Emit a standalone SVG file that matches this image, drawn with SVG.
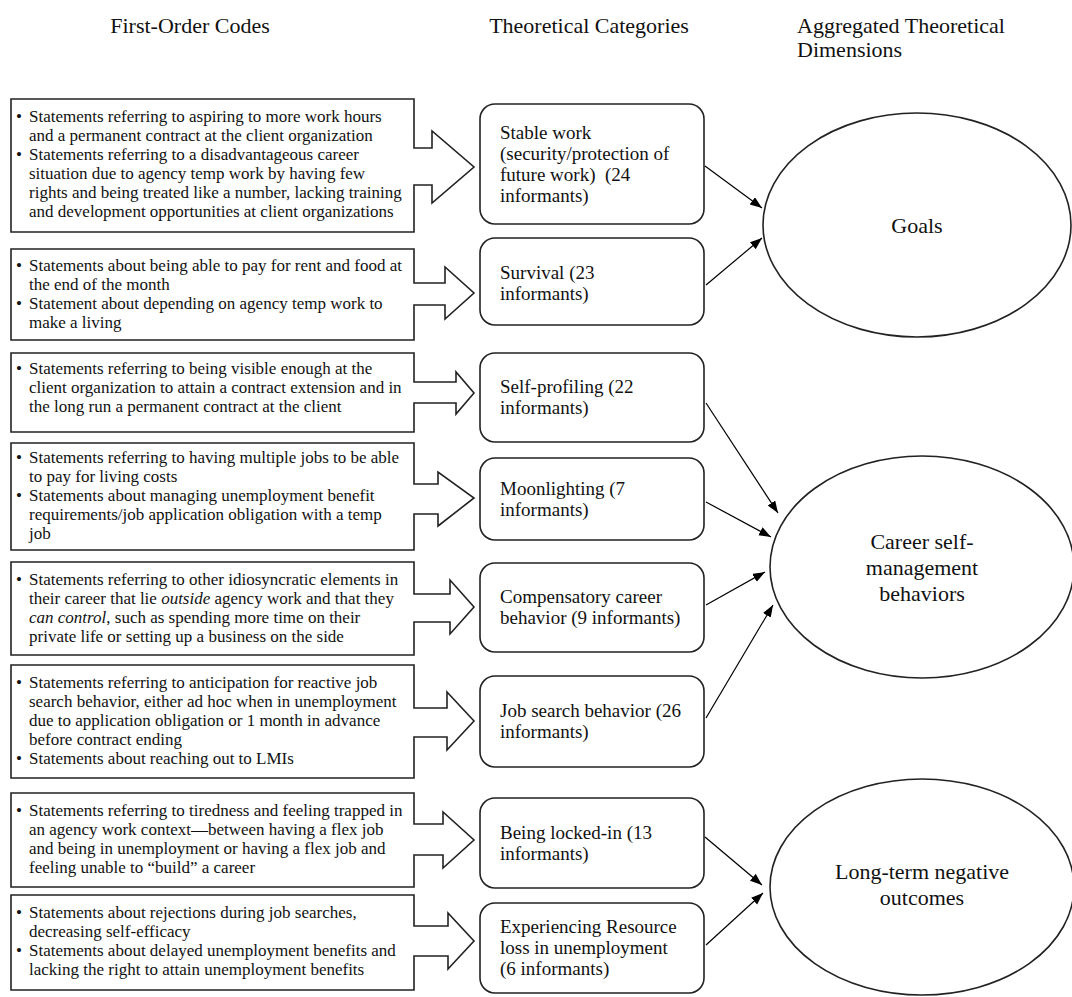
<svg xmlns="http://www.w3.org/2000/svg" width="1072" height="997" viewBox="0 0 1072 997">
<defs>
<marker id="ah" markerUnits="userSpaceOnUse" markerWidth="13" markerHeight="10" refX="12" refY="4.5" orient="auto">
<path d="M0,0 L12,4.5 L0,9 Z" fill="#000"/>
</marker>
<style>
text{font-family:"Liberation Serif","Times New Roman",serif;fill:#111}
.hd{font-size:22px}
.lt{font-size:17px}
.mt{font-size:19px}
.et{font-size:22px;text-anchor:middle}
.lb{fill:#fff;stroke:#222;stroke-width:1.6}
.mb{fill:#fff;stroke:#222;stroke-width:1.6}
.el{fill:#fff;stroke:#222;stroke-width:1.6}
.cn{stroke:#000;stroke-width:1.2;fill:none;marker-end:url(#ah)}
</style>
</defs>
<rect width="1072" height="997" fill="#fff"/>

<g id="headers">
<text class="hd" x="190" y="33" text-anchor="middle">First-Order Codes</text>
<text class="hd" x="589" y="33" text-anchor="middle">Theoretical Categories</text>
<text class="hd" x="797" y="33">Aggregated Theoretical</text>
<text class="hd" x="797" y="57">Dimensions</text>
</g>

<g id="code1">
<path class="lb" d="M11,99 H414 V148 H432 V131 L474,167 L432,203 V185 H414 V232 H11 Z"/>
<text class="lt"><tspan x="16" y="122">•</tspan><tspan x="29" y="122">Statements referring to aspiring to more work hours</tspan><tspan x="29" y="141">and a permanent contract at the client organization</tspan><tspan x="16" y="160">•</tspan><tspan x="29" y="160">Statements referring to a disadvantageous career</tspan><tspan x="29" y="179">situation due to agency temp work by having few</tspan><tspan x="29" y="198">rights and being treated like a number, lacking training</tspan><tspan x="29" y="217">and development opportunities at client organizations</tspan></text>
</g>
<g id="code2">
<path class="lb" d="M11,249 H414 V283 H445 V267 L474,293 L445,319 V305 H414 V340 H11 Z"/>
<text class="lt"><tspan x="16" y="271">•</tspan><tspan x="29" y="271">Statements about being able to pay for rent and food at</tspan><tspan x="29" y="290">the end of the month</tspan><tspan x="16" y="309">•</tspan><tspan x="29" y="309">Statement about depending on agency temp work to</tspan><tspan x="29" y="328">make a living</tspan></text>
</g>
<g id="code3">
<path class="lb" d="M11,353 H414 V382 H456 V372 L474,393 L456,414 V403 H414 V432 H11 Z"/>
<text class="lt"><tspan x="16" y="374">•</tspan><tspan x="29" y="374">Statements referring to being visible enough at the</tspan><tspan x="29" y="393">client organization to attain a contract extension and in</tspan><tspan x="29" y="412">the long run a permanent contract at the client</tspan></text>
</g>
<g id="code4">
<path class="lb" d="M11,443 H414 V484 H438 V472 L474,498 L438,526 V514 H414 V550 H11 Z"/>
<text class="lt"><tspan x="16" y="463">•</tspan><tspan x="29" y="463">Statements referring to having multiple jobs to be able</tspan><tspan x="29" y="482">to pay for living costs</tspan><tspan x="16" y="501">•</tspan><tspan x="29" y="501">Statements about managing unemployment benefit</tspan><tspan x="29" y="520">requirements/job application obligation with a temp</tspan><tspan x="29" y="539">job</tspan></text>
</g>
<g id="code5">
<path class="lb" d="M11,562 H414 V594 H450 V580 L474,607 L450,634 V622 H414 V655 H11 Z"/>
<text class="lt"><tspan x="16" y="585">•</tspan><tspan x="29" y="585">Statements referring to other idiosyncratic elements in</tspan><tspan x="29" y="604">their career that lie <tspan font-style="italic">outside</tspan> agency work and that they</tspan><tspan x="29" y="623"><tspan font-style="italic">can control</tspan>, such as spending more time on their</tspan><tspan x="29" y="642">private life or setting up a business on the side</tspan></text>
</g>
<g id="code6">
<path class="lb" d="M11,665 H414 V708 H447 V692 L474,721 L447,750 V737 H414 V778 H11 Z"/>
<text class="lt"><tspan x="16" y="688">•</tspan><tspan x="29" y="688">Statements referring to anticipation for reactive job</tspan><tspan x="29" y="707">search behavior, either ad hoc when in unemployment</tspan><tspan x="29" y="726">due to application obligation or 1 month in advance</tspan><tspan x="29" y="745">before contract ending</tspan><tspan x="16" y="764">•</tspan><tspan x="29" y="764">Statements about reaching out to LMIs</tspan></text>
</g>
<g id="code7">
<path class="lb" d="M11,793 H414 V824 H443 V812 L474,840 L443,868 V855 H414 V887 H11 Z"/>
<text class="lt"><tspan x="16" y="816">•</tspan><tspan x="29" y="816">Statements referring to tiredness and feeling trapped in</tspan><tspan x="29" y="835">an agency work context—between having a flex job</tspan><tspan x="29" y="854">and being in unemployment or having a flex job and</tspan><tspan x="29" y="873">feeling unable to “build” a career</tspan></text>
</g>
<g id="code8">
<path class="lb" d="M11,895 H414 V926 H448 V913 L474,941 L448,969 V956 H414 V990 H11 Z"/>
<text class="lt"><tspan x="16" y="918">•</tspan><tspan x="29" y="918">Statements about rejections during job searches,</tspan><tspan x="29" y="937">decreasing self-efficacy</tspan><tspan x="16" y="956">•</tspan><tspan x="29" y="956">Statements about delayed unemployment benefits and</tspan><tspan x="29" y="975">lacking the right to attain unemployment benefits</tspan></text>
</g>

<g id="cat1">
<rect class="mb" x="480" y="104" width="224" height="120" rx="15"/>
<text class="mt" xml:space="preserve"><tspan x="500" y="139">Stable work</tspan><tspan x="500" y="160">(security/protection of</tspan><tspan x="500" y="181">future work)  (24</tspan><tspan x="500" y="202">informants)</tspan></text>
</g>
<g id="cat2">
<rect class="mb" x="480" y="238" width="224" height="87" rx="15"/>
<text class="mt"><tspan x="500" y="279">Survival (23</tspan><tspan x="500" y="300">informants)</tspan></text>
</g>
<g id="cat3">
<rect class="mb" x="480" y="353" width="224" height="89" rx="15"/>
<text class="mt"><tspan x="500" y="393">Self-profiling (22</tspan><tspan x="500" y="414">informants)</tspan></text>
</g>
<g id="cat4">
<rect class="mb" x="480" y="458" width="224" height="82" rx="15"/>
<text class="mt"><tspan x="500" y="495">Moonlighting (7</tspan><tspan x="500" y="516">informants)</tspan></text>
</g>
<g id="cat5">
<rect class="mb" x="480" y="563" width="224" height="89" rx="15"/>
<text class="mt"><tspan x="500" y="603">Compensatory career</tspan><tspan x="500" y="624">behavior (9 informants)</tspan></text>
</g>
<g id="cat6">
<rect class="mb" x="480" y="676" width="224" height="91" rx="15"/>
<text class="mt"><tspan x="500" y="717">Job search behavior (26</tspan><tspan x="500" y="738">informants)</tspan></text>
</g>
<g id="cat7">
<rect class="mb" x="480" y="798" width="224" height="90" rx="15"/>
<text class="mt"><tspan x="500" y="839">Being locked-in (13</tspan><tspan x="500" y="860">informants)</tspan></text>
</g>
<g id="cat8">
<rect class="mb" x="480" y="903" width="224" height="90" rx="15"/>
<text class="mt"><tspan x="500" y="933">Experiencing Resource</tspan><tspan x="500" y="954">loss in unemployment</tspan><tspan x="500" y="975">(6 informants)</tspan></text>
</g>

<g id="dim-goals">
<ellipse class="el" cx="917" cy="225" rx="154" ry="112"/>
<text class="et" x="917" y="233">Goals</text>
</g>
<g id="dim-career">
<ellipse class="el" cx="922" cy="567" rx="152" ry="111"/>
<text class="et"><tspan x="922" y="549">Career self-</tspan><tspan x="922" y="575">management</tspan><tspan x="922" y="601">behaviors</tspan></text>
</g>
<g id="dim-longterm">
<ellipse class="el" cx="922" cy="887" rx="152" ry="108"/>
<text class="et"><tspan x="922" y="879">Long-term negative</tspan><tspan x="922" y="905">outcomes</tspan></text>
</g>

<g id="connectors">
<line class="cn" x1="705" y1="166" x2="762" y2="208"/>
<line class="cn" x1="706" y1="285" x2="762" y2="238"/>
<line class="cn" x1="706" y1="403" x2="778" y2="513"/>
<line class="cn" x1="706" y1="502" x2="771" y2="537"/>
<line class="cn" x1="706" y1="605" x2="765" y2="572"/>
<line class="cn" x1="706" y1="718" x2="773" y2="605"/>
<line class="cn" x1="705" y1="837" x2="762" y2="885"/>
<line class="cn" x1="706" y1="945" x2="763" y2="893"/>
</g>
</svg>
